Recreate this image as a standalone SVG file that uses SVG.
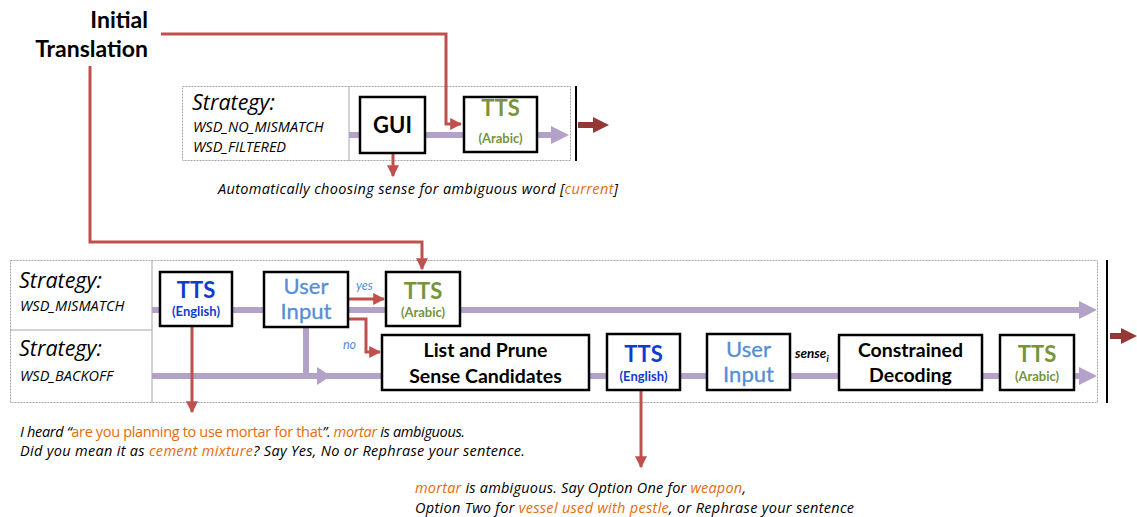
<svg xmlns="http://www.w3.org/2000/svg" width="1137" height="517" viewBox="0 0 1137 517">
<defs>
<style>
text{font-family:Lato,"Liberation Sans",sans-serif;}
.frame{fill:none;stroke:#a6a6a6;stroke-width:1;stroke-dasharray:2 1;}
.div{stroke:#a6a6a6;stroke-width:1;}
.box{fill:#fff;stroke:#000;stroke-width:2.5;}
.strat{font-family:"Open Sans",Lato,sans-serif;font-style:italic;font-size:21.5px;fill:#000;}
.sname{font-family:"Open Sans",Lato,sans-serif;font-style:italic;font-size:14.5px;fill:#000;}
.big{font-weight:bold;font-size:22px;text-anchor:middle;}
.lbl{font-weight:bold;font-size:19.5px;text-anchor:middle;fill:#000;}
.usr{font-size:22px;text-anchor:middle;fill:#558ed5;stroke:#558ed5;stroke-width:0.3;}
.small{font-weight:bold;font-size:13px;text-anchor:middle;}
.green{fill:#77933c;}
.blue{fill:#0f3bd0;}
.lblue{fill:#558ed5;}
.orange{fill:#e46c0a;}
.note{font-family:"Open Sans",Lato,sans-serif;font-style:italic;font-size:14.5px;fill:#000;}
.red{fill:none;stroke:#c0504d;stroke-width:3;}
.purple{fill:none;stroke:#b3a2c7;stroke-width:6;}
.bar{stroke:#000;stroke-width:2;}
</style>
<marker id="ar" viewBox="0 0 10 10" refX="9" refY="5" markerWidth="4" markerHeight="4" orient="auto" markerUnits="strokeWidth"><path d="M0,0L10,5L0,10z" fill="#c0504d"/></marker>
</defs>

<g id="initial-translation">
<text x="148" y="27.5" font-weight="bold" font-size="23" text-anchor="end">Initial</text>
<text x="148" y="57" font-weight="bold" font-size="23" text-anchor="end">Translation</text>
</g>

<g id="top-frame">
<rect class="frame" x="182.5" y="86.5" width="388" height="74"/>
<line class="div" x1="349" y1="86" x2="349" y2="161"/>
<text class="strat" x="192" y="110">Strategy:</text>
<text class="sname" x="193" y="132">WSD_NO_MISMATCH</text>
<text class="sname" x="193" y="152">WSD_FILTERED</text>
</g>

<g id="bottom-frame">
<rect class="frame" x="10.5" y="260.5" width="1087" height="142"/>
<line class="div" x1="152" y1="260" x2="152" y2="403"/>
<line class="div" x1="10" y1="330" x2="152" y2="330"/>
<text class="strat" x="19" y="288">Strategy:</text>
<text class="sname" x="20" y="311">WSD_MISMATCH</text>
<text class="strat" x="19" y="356">Strategy:</text>
<text class="sname" x="20" y="381">WSD_BACKOFF</text>
</g>

<g id="connectors">
<line class="purple" x1="349" y1="135" x2="553" y2="135"/>
<path d="M551,126L569,135L551,144z" fill="#b3a2c7"/>
<line class="purple" x1="152" y1="310" x2="1081" y2="310"/>
<path d="M1079,301L1097,310L1079,319z" fill="#b3a2c7"/>
<line class="purple" x1="152" y1="376" x2="1081" y2="376"/>
<path d="M1079,367L1097,376L1079,385z" fill="#b3a2c7"/>
<line class="purple" x1="306" y1="326" x2="306" y2="376"/>
<path d="M317,367L331,376L317,385z" fill="#b3a2c7"/>
<path class="red" d="M161,34H446V124H461" marker-end="url(#ar)"/>
<path class="red" d="M90,66V242H422V269" marker-end="url(#ar)"/>
<path class="red" d="M393,153V176" marker-end="url(#ar)"/>
<path class="red" d="M348,299H384" marker-end="url(#ar)"/>
<path class="red" d="M348,319H366V352H380" marker-end="url(#ar)"/>
<path class="red" d="M192,326V412" marker-end="url(#ar)"/>
<path class="red" d="M641,390V467" marker-end="url(#ar)"/>
<line class="bar" x1="576" y1="86" x2="576" y2="161"/>
<line class="bar" x1="1107" y1="260" x2="1107" y2="403"/>
<path d="M578,122H593V117L609,125L593,133V128H578z" fill="#953735"/>
<path d="M1110,333H1121V328L1137,336L1121,344V339H1110z" fill="#953735"/>
<text x="356" y="290" font-family="Open Sans,Lato,sans-serif" font-style="italic" font-size="12.5" class="lblue">yes</text>
<text x="343" y="349" font-family="Open Sans,Lato,sans-serif" font-style="italic" font-size="12.5" class="lblue">no</text>
<text x="795" y="358" font-style="italic" font-weight="bold" font-size="13.5">sense<tspan font-size="9" dy="4">i</tspan></text>
</g>

<g id="gui">
<rect class="box" x="360" y="97" width="65" height="56"/>
<text class="big" x="392.5" y="133">GUI</text>
</g>
<g id="tts-arabic-top">
<rect class="box" x="464" y="97" width="73" height="55"/>
<text class="big green" x="500.5" y="116">TTS</text>
<text class="small green" x="500.5" y="143">(Arabic)</text>
</g>
<text id="auto-note" class="note" x="218" y="194" textLength="400">Automatically choosing sense for ambiguous word [<tspan class="orange">current</tspan>]</text>

<g id="tts-english-1">
<rect class="box" x="160" y="272" width="72" height="54"/>
<text class="big blue" x="196" y="298">TTS</text>
<text class="small blue" x="196" y="316">(English)</text>
</g>
<g id="user-input-1">
<rect class="box" x="264" y="272" width="84" height="55"/>
<text class="usr" x="306" y="294">User</text>
<text class="usr" x="306" y="319">Input</text>
</g>
<g id="tts-arabic-1">
<rect class="box" x="386" y="272" width="74" height="54"/>
<text class="big green" x="423" y="299">TTS</text>
<text class="small green" x="423" y="317">(Arabic)</text>
</g>
<g id="list-prune">
<rect class="box" x="382" y="335" width="207" height="55"/>
<text class="lbl" x="485.5" y="357">List and Prune</text>
<text class="lbl" x="485.5" y="383">Sense Candidates</text>
</g>
<g id="tts-english-2">
<rect class="box" x="607" y="334" width="73" height="56"/>
<text class="big blue" x="643.5" y="362">TTS</text>
<text class="small blue" x="643.5" y="381">(English)</text>
</g>
<g id="user-input-2">
<rect class="box" x="707" y="334" width="83" height="56"/>
<text class="usr" x="748.5" y="357">User</text>
<text class="usr" x="748.5" y="382">Input</text>
</g>
<g id="constrained-decoding">
<rect class="box" x="839" y="335" width="143" height="55"/>
<text class="lbl" x="910.5" y="357">Constrained</text>
<text class="lbl" x="910.5" y="382">Decoding</text>
</g>
<g id="tts-arabic-2">
<rect class="box" x="1000" y="335" width="74" height="55"/>
<text class="big green" x="1037" y="362">TTS</text>
<text class="small green" x="1037" y="381">(Arabic)</text>
</g>

<g id="prompt-1">
<text class="note" x="20" y="437" textLength="445">I heard “<tspan class="orange" font-style="normal">are you planning to use mortar for that</tspan>”. <tspan class="orange">mortar</tspan> is ambiguous.</text>
<text class="note" x="20" y="456" textLength="505">Did you mean it as <tspan class="orange">cement mixture</tspan>? Say Yes, No or Rephrase your sentence.</text>
</g>
<g id="prompt-2">
<text class="note" x="415" y="493" textLength="331"><tspan class="orange">mortar</tspan> is ambiguous. Say Option One for <tspan class="orange">weapon</tspan>,</text>
<text class="note" x="415" y="513" textLength="439">Option Two for <tspan class="orange">vessel used with pestle</tspan>, or Rephrase your sentence</text>
</g>
</svg>
